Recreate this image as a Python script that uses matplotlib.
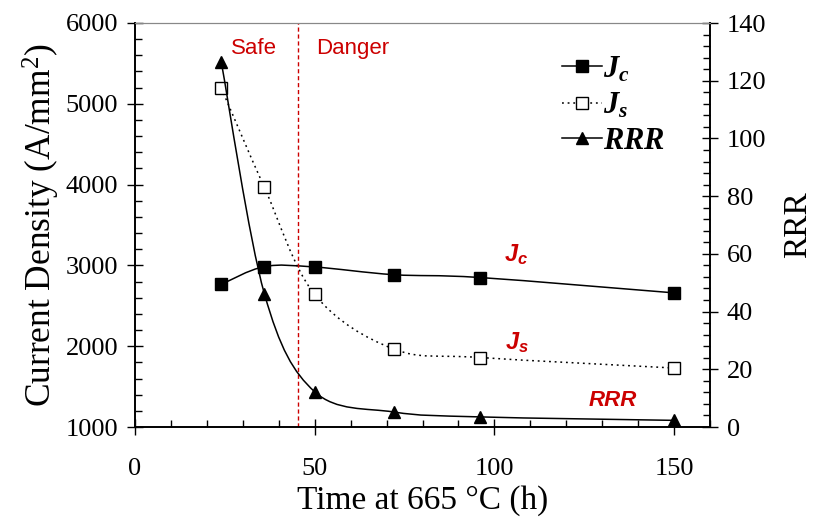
import numpy as np
import matplotlib
matplotlib.use('Agg')
import matplotlib.pyplot as plt
from matplotlib.path import Path
from matplotlib.patches import PathPatch
from matplotlib.lines import Line2D
from matplotlib.ticker import MultipleLocator

plt.rcParams['font.family'] = 'Liberation Serif'
plt.rcParams['mathtext.fontset'] = 'custom'
plt.rcParams['mathtext.rm'] = 'Liberation Serif'
plt.rcParams['mathtext.it'] = 'Liberation Serif:bold:italic'
plt.rcParams['mathtext.sf'] = 'Liberation Sans:bold:italic'

# data
time_h = [24, 36, 50, 72, 96, 150]
jc = [2765, 2985, 2980, 2885, 2850, 2660]
js = [5195, 3965, 2640, 1965, 1860, 1730]
rrr = [126.5, 46.2, 12.2, 5.2, 3.5, 2.3]
boundary_h = 45.3

red = '#cc0000'


def smooth_path(x, y):
    # Bezier smoothing like a spreadsheet "smoothed line"
    pts = np.column_stack([x, y]).astype(float)
    n = len(pts)
    verts = [pts[0]]
    codes = [Path.MOVETO]
    for i in range(n - 1):
        p0 = pts[max(i - 1, 0)]
        p1 = pts[i]
        p2 = pts[i + 1]
        p3 = pts[min(i + 2, n - 1)]
        verts += [p1 + (p2 - p0) / 6, p2 - (p3 - p1) / 6, p2]
        codes += [Path.CURVE4] * 3
    return Path(verts, codes)


fig = plt.figure(figsize=(8.14, 5.24), dpi=100)
ax = fig.add_axes([135 / 814, 97 / 524, 575 / 814, 404 / 524])
ax2 = ax.twinx()

ax.add_patch(PathPatch(smooth_path(time_h, jc), fill=False, ec='black', lw=1.1))
ax.add_patch(PathPatch(smooth_path(time_h, js), fill=False, ec='black', lw=1.1,
                       linestyle=(0, (1.2, 2.5))))
ax2.add_patch(PathPatch(smooth_path(time_h, rrr), fill=False, ec='black', lw=1.1))

ax.plot(time_h, jc, ls='none', marker='s', ms=8, mfc='black', mec='black', zorder=5)
ax.plot(time_h, js, ls='none', marker='s', ms=8, mfc='white', mec='black', mew=1.0, zorder=5)
ax2.plot(time_h, rrr, ls='none', marker='^', ms=8.5, mfc='black', mec='black', zorder=5)

ax.axvline(boundary_h, color=red, lw=1, linestyle=(0, (3, 2)))

ax.set_xlim(0, 160)
ax.set_ylim(1000, 6000)
ax2.set_ylim(0, 140)

ax.xaxis.set_major_locator(MultipleLocator(50))
ax.xaxis.set_minor_locator(MultipleLocator(10))
ax.yaxis.set_major_locator(MultipleLocator(1000))
ax.yaxis.set_minor_locator(MultipleLocator(200))
ax2.yaxis.set_major_locator(MultipleLocator(20))
ax2.yaxis.set_minor_locator(MultipleLocator(4))

ax.tick_params(which='major', direction='inout', length=12, width=1, labelsize=19, pad=6)
ax.tick_params(which='minor', direction='in', length=5, width=1)
ax.tick_params(axis='x', which='major', pad=16)
ax2.tick_params(which='major', direction='inout', length=12, width=1, labelsize=19, pad=6)
ax2.tick_params(which='minor', direction='in', length=5, width=1)

for a in (ax, ax2):
    a.spines['top'].set_color('#888888')
    a.spines['left'].set_linewidth(1.2)
    a.spines['bottom'].set_linewidth(1.2)
    a.spines['right'].set_linewidth(1.2)

ax.set_xlabel('Time at 665 °C (h)', fontsize=24, labelpad=4)
ax.set_ylabel('Current Density (A/mm$^\\mathrm{2}$)', fontsize=25.5, labelpad=3)
ax2.set_ylabel('RRR', fontsize=24, labelpad=12)

# region labels and curve names
ax.text(33.2, 5690, 'Safe', color=red, fontsize=16, family='Liberation Sans',
        ha='center', va='center')
ax.text(60.7, 5690, 'Danger', color=red, fontsize=16, family='Liberation Sans',
        ha='center', va='center')
ax.text(106, 3135, r'$\mathsf{J_c}$', color=red, fontsize=17, ha='center', va='center')
ax.text(106.3, 2050, r'$\mathsf{J_s}$', color=red, fontsize=17, ha='center', va='center')
ax.text(133, 1334, 'RRR', color=red, fontsize=16, family='Liberation Sans',
        weight='bold', style='italic', ha='center', va='center')

handles = [
    Line2D([], [], color='black', lw=1.1, marker='s', ms=8, mfc='black'),
    Line2D([], [], color='black', lw=1.1, ls=(0, (1.2, 2.5)), marker='s', ms=8, mfc='white'),
    Line2D([], [], color='black', lw=1.1, marker='^', ms=8.5, mfc='black'),
]
labels = ['$J_c$', '$J_s$', r'$\mathit{RRR}$']
ax2.legend(handles, labels, loc='upper left', bbox_to_anchor=(0.743, 0.922),
           frameon=False, fontsize=22, borderpad=0, handletextpad=0.05,
           handlelength=1.3, labelspacing=0.22, borderaxespad=0)

fig.savefig('out.png', dpi=100)
